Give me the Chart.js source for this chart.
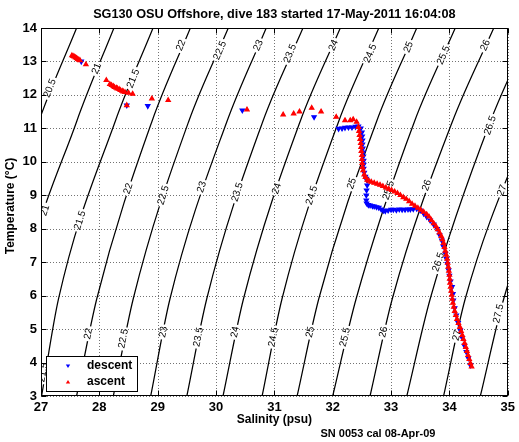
<!DOCTYPE html>
<html>
<head>
<meta charset="utf-8">
<script src="https://cdn.jsdelivr.net/npm/chart.js@4.4.0/dist/chart.umd.min.js"></script>
<style>
  html, body { margin: 0; padding: 0; background: #fff; }
  #wrap { width: 519px; height: 442px; }
</style>
</head>
<body>
<div id="wrap"><canvas id="tsChart" width="519" height="442"></canvas></div>
<script>
const titleText = 'SG130 OSU Offshore, dive 183 started 17-May-2011 16:04:08';
const xTitle = 'Salinity (psu)';
const yTitle = 'Temperature (°C)';
const footNote = 'SN 0053 cal 08-Apr-09';

const salTicks = [27, 28, 29, 30, 31, 32, 33, 34, 35];
const tempTicks = [3, 4, 5, 6, 7, 8, 9, 10, 11, 12, 13, 14];

// density contours (sigma-theta), salinity read where each crosses a few temperatures
const sigmaLevels = [20.5, 21, 21.5, 22, 22.5, 23, 23.5, 24, 24.5, 25, 25.5, 26, 26.5, 27, 27.5];
const contourTemps = [3, 5.9, 11.2, 14];
const salAt3    = [25.75, 26.38, 27.01, 27.61, 28.24, 28.88, 29.50, 30.12, 30.79, 31.39, 32.00, 32.64, 33.27, 33.90, 34.53];
const salAt5_9  = [25.99, 26.64, 27.30, 27.955, 28.58, 29.21, 29.84, 30.47, 31.13, 31.76, 32.40, 33.02, 33.67, 34.27, 34.93];
const salAt11_2 = [26.96, 27.61, 28.27, 28.90, 29.53, 30.185, 30.80, 31.44, 32.10, 32.75, 33.40, 34.05, 34.70, 35.38, 36.0];
const salAt14   = [27.61, 28.25, 28.92, 29.56, 30.21, 30.86, 31.49, 32.13, 32.79, 33.44, 34.10, 34.76, 35.41, 36.06, 36.7];

// contour label spots: [level, salinity, temperature]
const labelSpots = [
  [20.5, 27.154, 12.197], [21, 27.955, 12.786], [21.5, 28.583, 12.487], [22, 29.40, 13.48],
  [22.5, 30.07, 13.33], [23, 30.727, 13.48], [23.5, 31.271, 13.235], [24, 32.014, 13.48],
  [24.5, 32.643, 13.235], [25, 33.30, 13.43], [25.5, 33.90, 13.184], [26, 34.616, 13.48],
  [26.5, 34.70, 11.09],
  [21, 27.069, 8.55], [21.5, 27.669, 8.25], [22, 28.497, 9.2], [22.5, 29.098, 9.0],
  [23, 29.756, 9.247], [23.5, 30.367, 9.097], [24, 31.043, 9.2], [24.5, 31.643, 9.0],
  [25, 32.329, 9.348], [25.5, 32.957, 9.148], [26, 33.616, 9.297], [26.5, 33.815, 7.004],
  [27, 34.902, 9.148],
  [21.5, 27.04, 3.707], [22, 27.811, 4.864], [22.5, 28.412, 4.714], [23, 29.098, 4.912],
  [23.5, 29.698, 4.762], [24, 30.328, 4.912], [24.5, 30.985, 4.762], [25, 31.614, 4.912],
  [25.5, 32.214, 4.762], [26, 32.871, 4.912], [27, 34.13, 4.813], [27.5, 34.844, 5.462]
];

// glider samples [salinity, temperature]
const descentPoints = [
  [27.69, 13.00], [28.47, 11.69], [28.83, 11.67], [30.45, 11.54], [31.68, 11.34],
  [32.10, 10.99], [32.16, 11.00], [32.21, 11.02], [32.27, 11.03], [32.33, 11.03], [32.39, 11.05],
  [32.44, 11.06], [32.48, 11.00], [32.50, 10.88], [32.505, 10.76], [32.51, 10.64], [32.51, 10.52],
  [32.515, 10.40], [32.52, 10.28], [32.525, 10.16], [32.53, 10.04], [32.53, 9.92], [32.53, 9.80],
  [32.54, 9.68], [32.56, 9.56], [32.575, 9.50], [32.59, 9.44], [32.59, 9.30], [32.58, 9.15],
  [32.575, 9.00], [32.575, 8.85], [32.58, 8.76], [32.61, 8.71], [32.64, 8.70], [32.68, 8.68],
  [32.71, 8.67], [32.75, 8.65], [32.79, 8.63], [32.83, 8.58], [32.87, 8.54], [32.90, 8.53],
  [32.95, 8.55], [33.00, 8.57], [33.04, 8.57], [33.09, 8.56], [33.14, 8.58], [33.19, 8.57],
  [33.24, 8.57], [33.29, 8.58], [33.33, 8.58], [33.38, 8.59], [33.44, 8.60], [33.50, 8.55],
  [33.56, 8.45], [33.61, 8.36], [33.67, 8.25], [33.73, 8.13], [33.79, 8.00], [33.83, 7.82],
  [33.87, 7.65], [33.895, 7.47], [33.93, 7.26], [33.95, 7.10], [33.965, 6.95], [33.986, 6.76],
  [34.00, 6.60], [34.02, 6.43], [34.045, 6.26], [34.06, 6.05], [34.067, 5.86], [34.09, 5.63],
  [34.118, 5.41], [34.15, 5.19], [34.187, 4.96], [34.22, 4.74], [34.256, 4.51], [34.29, 4.32],
  [34.324, 4.13], [34.36, 3.92]
];
const ascentPoints = [
  [27.53, 13.18], [27.55, 13.16], [27.57, 13.14], [27.59, 13.12], [27.61, 13.10], [27.63, 13.07],
  [27.65, 13.05], [27.67, 13.03], [27.77, 12.91],
  [28.12, 12.44], [28.18, 12.32], [28.21, 12.29], [28.24, 12.26], [28.26, 12.23], [28.29, 12.21],
  [28.31, 12.19], [28.34, 12.17], [28.36, 12.14], [28.39, 12.12], [28.41, 12.10], [28.44, 12.08],
  [28.50, 12.06], [28.57, 12.03], [28.47, 11.69], [28.90, 11.89], [29.18, 11.84],
  [30.53, 11.56], [31.15, 11.41], [31.33, 11.44], [31.43, 11.50], [31.64, 11.61], [31.80, 11.50],
  [32.06, 11.34], [32.21, 11.24], [32.30, 11.24], [32.35, 11.27], [32.41, 11.19],
  [32.44, 11.04], [32.45, 10.92], [32.46, 10.80], [32.47, 10.68], [32.48, 10.56], [32.485, 10.44],
  [32.49, 10.32], [32.50, 10.20], [32.50, 10.08], [32.505, 9.96], [32.51, 9.84], [32.52, 9.74],
  [32.54, 9.62], [32.56, 9.54], [32.59, 9.46], [32.62, 9.43], [32.66, 9.40], [32.71, 9.37],
  [32.76, 9.34], [32.81, 9.31], [32.86, 9.27], [32.91, 9.23], [32.96, 9.19], [33.01, 9.15],
  [33.06, 9.11], [33.11, 9.06], [33.16, 9.00], [33.21, 8.94], [33.26, 8.89], [33.31, 8.82],
  [33.36, 8.74], [33.41, 8.68], [33.46, 8.62], [33.51, 8.56], [33.56, 8.50], [33.61, 8.43],
  [33.65, 8.36], [33.69, 8.26], [33.73, 8.16], [33.77, 8.07], [33.80, 7.98], [33.83, 7.88],
  [33.86, 7.78], [33.88, 7.68], [33.90, 7.57], [33.915, 7.45], [33.93, 7.34], [33.945, 7.22],
  [33.96, 7.10], [33.97, 6.98], [33.98, 6.86], [33.99, 6.74], [34.00, 6.62], [34.005, 6.50],
  [34.01, 6.38], [34.02, 6.26], [34.03, 6.14], [34.04, 6.02], [34.05, 5.90], [34.06, 5.78],
  [34.075, 5.66], [34.09, 5.54], [34.11, 5.42], [34.13, 5.30], [34.155, 5.18], [34.18, 5.06],
  [34.20, 4.94], [34.22, 4.82], [34.24, 4.70], [34.26, 4.58], [34.28, 4.46], [34.30, 4.34],
  [34.32, 4.22], [34.34, 4.10], [34.36, 3.98], [34.38, 3.88]
];

const FONT = "'Liberation Sans', Arial, Helvetica, sans-serif";

const toXY = pts => pts.map(p => ({x: p[0], y: p[1]}));

const contourSets = sigmaLevels.map((lev, i) => ({
    label: 'sigma ' + lev,
    sigma: lev,
    data: [salAt3[i], salAt5_9[i], salAt11_2[i], salAt14[i]].map((s, k) => ({x: s, y: contourTemps[k]})),
    showLine: true,
    borderColor: '#000',
    borderWidth: 1.25,
    pointRadius: 0,
    cubicInterpolationMode: 'monotone',
    order: 2
}));

// box around each contour label, in pixels, rotated along the line
const labelBoxes = (chart) => {
    const ctx = chart.ctx;
    const xs = chart.scales.x, ys = chart.scales.y;
    ctx.save();
    ctx.font = '10px ' + FONT;
    const boxes = labelSpots.map(([lev, s, t]) => {
        const px = xs.getPixelForValue(s);
        const py = ys.getPixelForValue(t);
        const idx = chart.data.datasets.findIndex(d => d.sigma === lev);
        const pts = chart.getDatasetMeta(idx).data;
        let angle = -Math.PI * 0.38;
        for (let i = 0; i < pts.length - 1; i++) {
            const a = pts[i], b = pts[i + 1];
            if (py <= a.y && py >= b.y) {
                angle = Math.atan2(b.y - a.y, b.x - a.x);
                break;
            }
        }
        const text = String(lev);
        const w = ctx.measureText(text).width;
        return {px, py, angle, text, w};
    });
    ctx.restore();
    return boxes;
};

const decor = {
    id: 'decor',
    beforeDatasetsDraw(chart) {
        const {ctx, chartArea: a, scales: {x, y}} = chart;
        ctx.save();
        ctx.strokeStyle = 'rgba(0,0,0,0.55)';
        ctx.lineWidth = 1;
        ctx.setLineDash([1, 2]);
        salTicks.forEach(v => {
            const px = Math.round(x.getPixelForValue(v)) + 0.5;
            ctx.beginPath(); ctx.moveTo(px, a.top); ctx.lineTo(px, a.bottom); ctx.stroke();
        });
        tempTicks.forEach(v => {
            const py = Math.round(y.getPixelForValue(v)) + 0.5;
            ctx.beginPath(); ctx.moveTo(a.left, py); ctx.lineTo(a.right, py); ctx.stroke();
        });
        ctx.restore();
    },
    beforeDatasetDraw(chart, args) {
        const ds = chart.data.datasets[args.index];
        const ctx = chart.ctx;
        if (ds.sigma !== undefined) {
            // cut gaps in the contour lines where the labels go
            ctx.save();
            ctx.beginPath();
            ctx.rect(0, 0, chart.width, chart.height);
            labelBoxes(chart).forEach(b => {
                const hw = b.w / 2 + 2, hh = 5;
                const c = Math.cos(b.angle), s = Math.sin(b.angle);
                const corners = [[-hw, -hh], [hw, -hh], [hw, hh], [-hw, hh]].map(([u, v]) =>
                    [b.px + u * c - v * s, b.py + u * s + v * c]);
                ctx.moveTo(corners[0][0], corners[0][1]);
                corners.slice(1).forEach(p => ctx.lineTo(p[0], p[1]));
                ctx.closePath();
            });
            ctx.clip('evenodd');
        } else if (ds.label === 'descent') {
            const a = chart.chartArea;
            ctx.save();
            ctx.beginPath();
            ctx.rect(a.left, a.top, a.right - a.left, a.bottom - a.top);
            ctx.clip();
            ctx.font = '10px ' + FONT;
            ctx.fillStyle = '#000';
            ctx.textAlign = 'center';
            ctx.textBaseline = 'middle';
            labelBoxes(chart).forEach(b => {
                ctx.save();
                ctx.translate(b.px, b.py);
                ctx.rotate(b.angle);
                ctx.fillText(b.text, 0, 0);
                ctx.restore();
            });
            ctx.restore();
        }
    },
    afterDatasetDraw(chart, args) {
        const ds = chart.data.datasets[args.index];
        if (ds.sigma !== undefined) chart.ctx.restore();
    },
    afterDraw(chart) {
        const {ctx, chartArea: a, scales: {x, y}} = chart;
        ctx.save();
        // axes box and inward ticks
        ctx.strokeStyle = '#000';
        ctx.lineWidth = 1;
        const L = Math.round(a.left) + 0.5, R = Math.round(a.right) - 0.5;
        const T = Math.round(a.top) + 0.5, B = Math.round(a.bottom) - 0.5;
        ctx.strokeRect(L, T, R - L, B - T);
        ctx.beginPath();
        salTicks.forEach(v => {
            const px = Math.round(x.getPixelForValue(v)) + 0.5;
            ctx.moveTo(px, B); ctx.lineTo(px, B - 5);
            ctx.moveTo(px, T); ctx.lineTo(px, T + 5);
        });
        tempTicks.forEach(v => {
            const py = Math.round(y.getPixelForValue(v)) + 0.5;
            ctx.moveTo(L, py); ctx.lineTo(L + 5, py);
            ctx.moveTo(R, py); ctx.lineTo(R - 5, py);
        });
        ctx.stroke();

        // legend
        const lx = Math.round(a.left) + 5, ly = Math.round(a.bottom) - 40;
        ctx.fillStyle = '#fff';
        ctx.fillRect(lx, ly, 91, 35);
        ctx.strokeRect(lx + 0.5, ly + 0.5, 91, 35);
        const entries = [chart.data.datasets[1], chart.data.datasets[0]];
        ctx.font = 'bold 12px ' + FONT;
        ctx.textBaseline = 'middle';
        ctx.textAlign = 'left';
        entries.forEach((ds, i) => {
            const my = ly + 10 + i * 16;
            const mx = lx + 22;
            ctx.fillStyle = ds.backgroundColor;
            ctx.beginPath();
            if (ds.rotation === 180) {
                ctx.moveTo(mx - 2.2, my - 1.5); ctx.lineTo(mx + 2.2, my - 1.5); ctx.lineTo(mx, my + 2);
            } else {
                ctx.moveTo(mx - 2.2, my + 1.5); ctx.lineTo(mx + 2.2, my + 1.5); ctx.lineTo(mx, my - 2);
            }
            ctx.closePath();
            ctx.fill();
            ctx.fillStyle = '#000';
            ctx.fillText(ds.label, lx + 41, my);
        });

        // titles
        ctx.fillStyle = '#000';
        ctx.textAlign = 'center';
        ctx.textBaseline = 'middle';
        const cx = (a.left + a.right) / 2;
        ctx.font = 'bold 12.7px ' + FONT;
        ctx.fillText(titleText, cx, 14);
        ctx.font = 'bold 12px ' + FONT;
        ctx.fillText(xTitle, cx, 420);
        ctx.save();
        ctx.translate(10.5, 206);
        ctx.rotate(-Math.PI / 2);
        ctx.fillText(yTitle, 0, 0);
        ctx.restore();
        ctx.font = 'bold 11px ' + FONT;
        ctx.fillText(footNote, 378, 433.5);
        ctx.restore();
    }
};

new Chart(document.getElementById('tsChart'), {
    type: 'scatter',
    data: {
        datasets: [
            {
                label: 'ascent',
                data: toXY(ascentPoints),
                pointStyle: 'triangle',
                pointRadius: 2.5,
                borderWidth: 1.2,
                backgroundColor: '#ff0000',
                borderColor: '#ff0000',
                order: 0
            },
            {
                label: 'descent',
                data: toXY(descentPoints),
                pointStyle: 'triangle',
                rotation: 180,
                pointRadius: 2.5,
                borderWidth: 1.2,
                backgroundColor: '#0000ff',
                borderColor: '#0000ff',
                order: 1
            },
            ...contourSets
        ]
    },
    options: {
        responsive: false,
        animation: false,
        devicePixelRatio: 1,
        layout: { padding: { top: 28, right: 11, left: 0, bottom: 0 } },
        plugins: {
            legend: { display: false },
            tooltip: { enabled: false },
            title: { display: false }
        },
        scales: {
            x: {
                type: 'linear',
                min: 27,
                max: 35,
                afterBuildTicks: s => { s.ticks = salTicks.map(v => ({value: v})); },
                grid: { display: false, drawTicks: false },
                border: { display: false },
                ticks: { color: '#000', padding: 4, maxRotation: 0, font: { family: FONT, size: 13, weight: 'bold' } },
                afterFit: s => { s.height = 46; }
            },
            y: {
                type: 'linear',
                min: 3,
                max: 14,
                afterBuildTicks: s => { s.ticks = tempTicks.map(v => ({value: v})); },
                grid: { display: false, drawTicks: false },
                border: { display: false },
                ticks: { color: '#000', padding: 4, font: { family: FONT, size: 13, weight: 'bold' } },
                afterFit: s => { s.width = 41; }
            }
        }
    },
    plugins: [decor]
});
</script>
</body>
</html>
